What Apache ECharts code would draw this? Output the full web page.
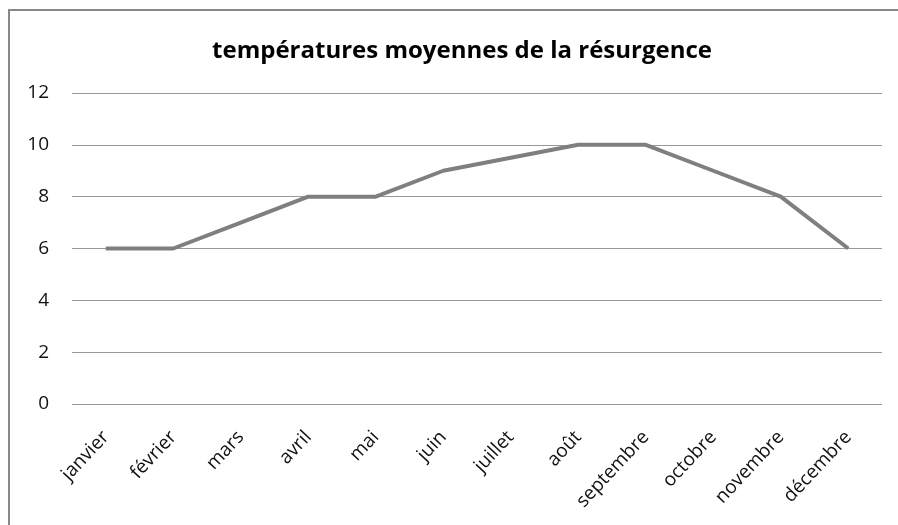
<!DOCTYPE html>
<html>
<head>
    <meta charset="UTF-8">
    <title>températures moyennes de la résurgence</title>
    <script type="text/javascript" src="https://cdn.jsdelivr.net/npm/echarts@6/dist/echarts.min.js"></script>
    <style type="text/css">
        html, body { margin: 0; padding: 0; background: #fff; }
        #main { width: 898px; height: 525px; }
    </style>
</head>
<body>
<div id="main"></div>
<script type="text/javascript">
    var titre = 'températures moyennes de la résurgence';
    var mois = ['janvier', 'février', 'mars', 'avril', 'mai', 'juin',
        'juillet', 'août', 'septembre', 'octobre', 'novembre', 'décembre'];
    var temperatures = [6, 6, 7, 8, 8, 9, 9.5, 10, 10, 9, 8, 6];

    var chart = echarts.init(document.getElementById('main'));
    chart.setOption({
        animation: false,
        textStyle: { fontFamily: 'Open Sans' },
        graphic: [{
            // cadre du graphique : seuls les bords gauche et haut sont visibles
            type: 'polyline',
            shape: { points: [[9, 600], [9, 10], [1000, 10]] },
            style: { fill: null, stroke: '#888', lineWidth: 2 },
            silent: true
        }],
        title: {
            text: titre,
            left: 457,
            textAlign: 'center',
            top: 34,
            textStyle: { fontFamily: 'Open Sans', fontSize: 24, fontWeight: 'bold', color: '#000' }
        },
        grid: { left: 72, right: 16, top: 93, bottom: 121, containLabel: false },
        xAxis: {
            type: 'category',
            data: mois,
            boundaryGap: true,
            axisLine: { show: false },
            axisTick: { show: false },
            axisLabel: {
                interval: 0,
                rotate: 47,
                margin: 30,
                fontSize: 19,
                color: '#111'
            }
        },
        yAxis: {
            type: 'value',
            min: 0, max: 12, interval: 2,
            axisLine: { show: false },
            axisTick: { show: false },
            axisLabel: { fontSize: 19, color: '#111', margin: 23 },
            splitLine: { lineStyle: { color: '#999', width: 1 } }
        },
        series: [{
            type: 'line',
            data: temperatures,
            showSymbol: false,
            symbol: 'none',
            lineStyle: { color: '#7f7f7f', width: 4 }
        }]
    });
</script>
</body>
</html>
